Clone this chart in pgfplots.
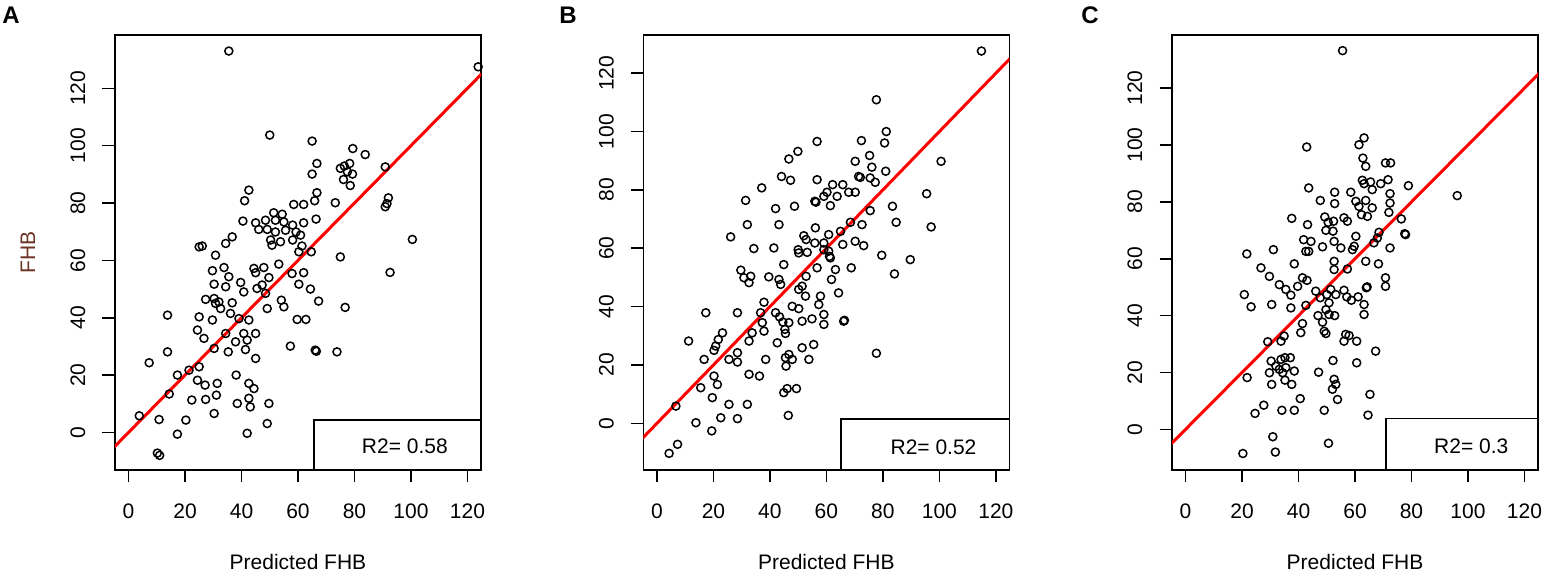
\documentclass[border=0pt]{standalone}
\usepackage{fontspec}
\setmainfont{Liberation Sans}
\usepackage{pgfplots}
\pgfplotsset{compat=1.18}

\newcommand\lbl{\fontsize{10.5}{12.6}\selectfont}
\definecolor{ylab}{rgb}{0.42,0.20,0.14}

\pgfplotsset{
  panel/.style={
    scale only axis, width=183pt, height=217.5pt, anchor=south west,
    xmin=-4.8, xmax=124.8,
    xtick={0,20,...,120}, ytick={0,20,...,120},
    xtick pos=left, ytick pos=left,
    tick align=outside, major tick length=6.25pt,
    every tick/.append style={black, line width=0.8pt},
    axis line style={black, line width=0.9pt},
    scaled ticks=false,
    /pgf/number format/assume math mode=true,
    tick label style={font=\lbl},
    xticklabel style={anchor=center, yshift=-14.6pt},
    % shift is given in the rotated frame: +y points left
    yticklabel style={rotate=90, anchor=center, yshift=12.25pt},
    every axis x label/.style={at={(axis description cs:0.5,0)}, anchor=center, yshift=-46pt, font=\lbl},
    xlabel={Predicted FHB},
  },
  pts/.style={only marks, mark=o, mark size=2pt, mark options={black, line width=0.75pt}},
  fit/.style={red, line width=1.5pt, no marks},
}

\begin{document}
\begin{tikzpicture}
\useasboundingbox (0,0) rectangle (774pt,288pt);

% ---------- A ----------
\begin{axis}[panel, at={(57.5pt,53pt)}, ymin=-13.1, ymax=138.6,
    ylabel={FHB},
    every axis y label/.style={at={(axis description cs:0,0.5)}, xshift=-43.5pt, rotate=90, anchor=center, font=\lbl, text=ylab}]
\addplot[pts] coordinates {
(35.5,133.0) (50.0,103.7) (42.6,84.5) (41.1,80.8) (40.5,73.7)
(45.0,73.1) (46.1,70.8) (48.5,74.0) (51.4,76.6) (54.4,76.1) (52.0,74.0) (55.0,73.4)
(49.1,70.8) (52.0,69.9) (55.6,70.5) (50.3,67.1) (50.8,65.3) (53.8,66.5)
(25.0,64.7) (26.1,65.0) (30.8,61.8) (34.4,65.9) (36.7,68.2)
(123.8,127.5) (65.0,101.6) (79.4,99.0) (83.8,96.9) (66.7,93.8) (65.0,90.1) (78.3,93.8)
(75.0,92.1) (76.4,92.9) (77.5,90.9) (79.3,90.1) (76.1,88.2) (78.5,86.1) (90.9,92.6)
(66.7,83.6) (65.9,80.8) (73.2,80.1) (58.5,79.5) (62.0,79.5) (92.0,81.8) (91.5,79.8)
(90.9,78.7) (66.4,74.4) (62.0,73.1) (58.1,72.3) (59.3,69.9) (60.9,68.8) (58.1,67.1)
(61.4,65.0) (60.3,63.0) (64.7,63.0) (100.5,67.3) (75.0,61.2)
(92.6,55.8) (62.0,55.7) (57.9,55.4) (60.3,51.7) (64.4,50.0) (67.3,45.8) (76.7,43.6)
(59.7,39.4) (62.8,39.4) (57.3,30.1) (66.1,28.7) (66.5,28.3) (73.8,28.1)
(29.7,56.4) (33.8,57.5) (35.5,54.3) (30.3,51.7) (34.4,50.8) (39.7,52.3) (40.8,49.0)
(44.4,57.2) (45.0,55.7) (47.9,57.5) (53.2,58.7) (49.7,54.0) (47.3,51.4) (45.5,50.2)
(48.5,48.5) (49.1,43.2) (54.1,46.1) (55.0,43.8) (27.3,46.4) (30.3,46.7) (32.0,45.5)
(32.6,43.2) (30.8,45.0) (29.7,39.2) (36.7,45.2) (36.1,41.5) (39.1,39.7) (42.6,39.2)
(34.4,34.5) (25.0,40.3) (24.4,35.7) (26.7,32.8) (30.3,29.3) (37.9,31.6) (35.3,28.1)
(41.4,28.9) (45.0,25.8) (40.8,34.5) (42.0,32.2) (45.0,34.5) (13.8,40.9) (13.8,28.1)
(7.3,24.3) (17.3,20.0) (21.4,21.7) (25.0,22.9) (14.4,13.4) (24.4,18.2) (27.1,16.5)
(22.4,11.3) (27.3,11.5) (31.4,17.1) (31.1,13.0) (38.1,20.0) (42.6,17.1) (44.4,15.3)
(42.6,11.9) (43.1,8.9) (38.5,10.1) (49.7,10.1) (30.3,6.6) (3.8,5.8) (10.8,4.5)
(20.3,4.3) (49.1,3.1) (17.3,-0.6) (42.0,-0.3) (10.2,-7.2) (11.0,-8.0)
};
\addplot[fit] coordinates {(-10,-10) (140,140)};
\draw[line width=0.9pt, fill=white] (axis cs:65.6,-13.1) rectangle (axis cs:124.8,4.3);
\node[font=\lbl, anchor=west, inner sep=0pt] at (axis cs:82.5,-5.0) {R2= 0.58};
\end{axis}

% ---------- B ----------
\begin{axis}[panel, at={(321.7pt,53pt)}, ymin=-16.0, ymax=133.1]
\addplot[pts] coordinates {
(56.7,96.6) (49.9,93.2) (46.7,90.6) (44.1,84.6) (47.3,83.3) (56.7,83.5) (37.1,80.7)
(31.4,76.4) (42.0,73.6) (48.7,74.4) (55.9,76.1) (56.3,75.8) (32.0,68.1) (43.2,68.1)
(26.1,63.9) (41.4,60.1) (34.3,59.9) (52.0,64.3) (52.8,63.0) (56.1,67.0) (55.9,61.8)
(50.0,59.5) (50.2,58.4) (53.2,58.6) (44.9,54.4) (52.8,50.4) (29.7,52.5) (30.8,49.9)
(33.2,50.4) (32.6,48.2) (39.6,50.2) (43.2,49.3) (43.8,47.6) (37.9,41.5) (36.7,37.9)
(28.5,37.9) (17.3,37.9) (50.2,45.9) (51.4,47.0) (52.6,43.6) (47.9,40.1) (50.2,39.3)
(42.0,37.9) (43.4,36.5) (44.6,34.7) (46.7,34.5) (45.3,32.2) (45.5,30.8) (42.6,27.6)
(51.4,35.0) (54.9,35.8) (55.5,27.0) (37.3,34.5) (37.9,31.6) (33.7,31.0) (32.6,28.2)
(23.2,31.0) (21.7,28.7) (20.8,26.5) (20.2,25.0) (25.5,21.9) (28.5,24.2) (28.5,21.0)
(16.7,21.9) (11.2,28.2) (32.6,16.8) (36.3,16.2) (38.5,21.9) (20.2,16.2) (21.4,13.3)
(15.5,12.2) (19.6,8.8) (25.5,6.5) (32.0,6.5) (22.6,1.9) (28.5,1.6) (13.8,0.2)
(19.4,-2.6) (6.7,5.9) (7.3,-7.2) (4.3,-10.3) (46.7,23.6) (45.5,22.5) (47.9,21.9)
(45.7,19.6) (44.9,10.5) (46.1,11.9) (49.4,11.9) (46.5,2.7) (51.4,25.9) (53.8,21.9)
(114.9,127.6) (77.7,110.9) (72.4,96.9) (81.2,100.0) (80.6,96.1) (75.3,91.8) (70.2,89.8)
(100.6,89.8) (76.1,87.8) (81.0,86.4) (71.4,84.6) (72.0,84.3) (75.5,84.1) (77.3,82.6)
(62.2,81.8) (65.8,81.8) (60.2,79.2) (59.1,77.8) (63.8,77.8) (67.9,79.2) (70.2,79.2)
(61.4,74.6) (95.5,78.7) (83.4,74.4) (75.5,72.9) (84.7,68.9) (97.1,67.3) (72.6,68.1)
(68.5,68.9) (60.8,64.7) (65.0,65.8) (59.1,61.8) (65.8,61.3) (70.2,62.4) (73.2,60.9)
(60.8,59.0) (61.4,56.7) (61.1,57.2) (59.1,59.5) (79.6,57.6) (89.7,56.1) (68.8,53.3)
(63.2,52.7) (56.7,53.3) (61.8,49.3) (84.1,51.2) (64.3,44.7) (57.9,43.6) (57.3,40.7)
(59.1,37.3) (59.1,33.9) (66.1,35.0) (66.4,35.3) (77.7,24.0)
};
\addplot[fit] coordinates {(-10,-10) (140,140)};
\draw[line width=0.9pt, fill=white] (axis cs:65.3,-16.0) rectangle (axis cs:124.8,1.6);
\node[font=\lbl, anchor=west, inner sep=0pt] at (axis cs:82.6,-8.3) {R2= 0.52};
\end{axis}

% ---------- C ----------
\begin{axis}[panel, at={(586pt,53pt)}, ymin=-14.3, ymax=138.7]
\addplot[pts] coordinates {
(55.6,133.2) (42.9,99.3) (43.6,84.9) (47.7,80.5) (52.8,83.4) (52.8,79.4) (37.6,74.2)
(43.2,72.0) (49.3,74.7) (50.5,72.8) (49.7,70.0) (52.4,73.2) (52.2,69.7) (41.8,66.7)
(44.4,66.1) (43.6,62.6) (42.6,62.6) (48.5,64.2) (52.6,66.1) (21.7,61.7) (31.1,63.2)
(38.5,58.2) (52.6,59.1) (52.6,56.2) (26.7,56.8) (29.7,53.8) (33.2,50.9) (35.5,49.2)
(37.3,47.2) (39.7,50.3) (41.4,53.3) (43.0,52.4) (20.8,47.4) (23.2,43.1) (30.5,43.9)
(37.3,42.7) (42.6,43.6) (46.1,48.6) (47.7,46.3) (50.0,47.4) (51.4,49.2) (53.2,47.4)
(50.8,44.5) (49.7,42.1) (46.9,40.0) (50.8,40.4) (48.5,37.7) (49.1,34.5) (49.7,33.7)
(52.8,40.0) (41.4,37.2) (40.8,34.0) (29.1,30.8) (33.8,31.0) (34.9,32.8) (30.3,24.0)
(32.0,22.2) (33.8,24.6) (35.2,25.2) (37.1,25.2) (33.2,21.1) (35.5,21.7) (29.7,19.9)
(34.4,19.9) (38.5,20.5) (30.5,15.8) (35.2,17.3) (37.6,15.8) (21.8,18.2) (47.1,20.1)
(52.2,24.2) (40.6,10.8) (27.7,8.5) (24.6,5.6) (34.1,6.7) (38.5,6.7) (49.1,6.7)
(52.6,17.6) (53.2,15.8) (52.0,14.1) (53.8,10.5) (30.9,-2.6) (31.8,-8.0) (20.3,-8.5)
(50.6,-4.9)
(63.2,102.5) (61.4,100.1) (62.8,95.4) (63.8,92.5) (70.8,93.7) (72.6,93.7) (62.6,87.6)
(63.2,86.4) (65.5,87.0) (69.1,86.4) (71.7,87.8) (78.9,85.7) (66.1,84.3) (72.4,82.9)
(58.5,83.4) (60.3,80.2) (61.4,78.4) (63.8,80.5) (66.1,77.9) (62.3,75.5) (64.4,74.9)
(72.4,79.6) (72.0,76.3) (96.2,82.2) (56.1,74.4) (57.3,73.2) (76.4,74.0) (77.6,68.8)
(77.9,68.5) (68.5,69.3) (60.3,67.9) (59.7,64.4) (59.1,63.2) (66.7,65.6) (67.9,67.3)
(55.0,63.8) (72.4,63.8) (63.8,59.1) (68.3,58.2) (57.3,56.4) (70.8,53.3) (70.8,50.3)
(64.0,49.8) (64.3,50.1) (56.1,48.9) (57.1,46.6) (58.7,45.4) (61.1,46.6) (63.2,43.9)
(63.2,40.4) (56.7,33.4) (57.9,33.0) (56.1,31.0) (60.6,31.0) (67.3,27.5) (60.6,23.4)
(65.3,12.3) (64.6,5.0)
};
\addplot[fit] coordinates {(-10,-10) (140,140)};
\draw[line width=0.9pt, fill=white] (axis cs:71.1,-14.3) rectangle (axis cs:124.8,3.8);
\node[font=\lbl, anchor=west, inner sep=0pt] at (axis cs:87.9,-5.9) {R2= 0.3};
\end{axis}

% panel letters
\node[font=\bfseries\fontsize{12}{14}\selectfont] at (5.5pt,280.2pt) {A};
\node[font=\bfseries\fontsize{12}{14}\selectfont] at (284pt,280.2pt) {B};
\node[font=\bfseries\fontsize{12}{14}\selectfont] at (545pt,280.2pt) {C};
\end{tikzpicture}
\end{document}
